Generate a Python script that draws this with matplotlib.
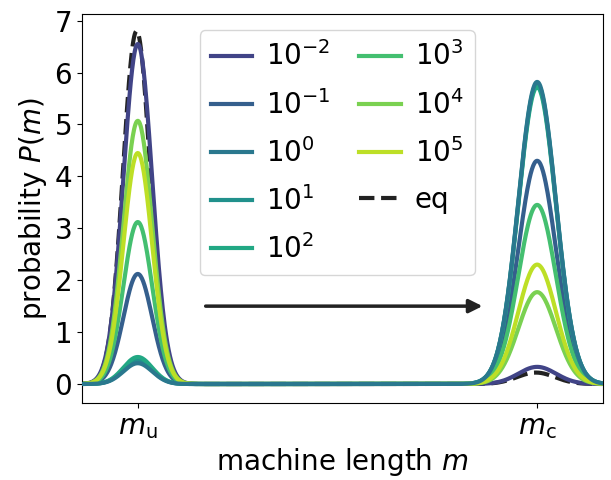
import numpy as np
import matplotlib
matplotlib.use('Agg')
import matplotlib.pyplot as plt

# peak heights (left peak at m_u, right peak at m_c)
labels = ['$10^{-2}$', '$10^{-1}$', '$10^{0}$', '$10^{1}$',
          '$10^{2}$', '$10^{3}$', '$10^{4}$', '$10^{5}$']
left_peak = [6.55, 2.12, 0.40, 0.46, 0.52, 3.12, 5.07, 4.45]
right_peak = [0.33, 4.30, 5.82, 5.78, 5.72, 3.45, 1.77, 2.30]
eq_left = 6.80
eq_right = 0.22

# peak positions / widths in machine-length units
m_u, m_c = 0.0, 1.0
width_u, width_c = 0.036, 0.047
eq_width_u = 0.034

m = np.linspace(-0.14, 1.165, 800)


def bump(h1, h2, w1=width_u, w2=width_c):
    return (h1 * np.exp(-(m - m_u)**2 / (2 * w1**2))
            + h2 * np.exp(-(m - m_c)**2 / (2 * w2**2)))


colors = plt.cm.viridis(np.linspace(0.2, 0.9, len(labels)))

fig, ax = plt.subplots(figsize=(6.11, 4.8), dpi=100)
fig.subplots_adjust(left=0.134, right=0.987, top=0.971, bottom=0.16)

eq_line, = ax.plot(m - 0.003, bump(eq_left, eq_right, w1=eq_width_u), '--',
                   color='#222222', lw=3, label='eq', zorder=1)
handles = []
for i, lab in enumerate(labels):
    z = 3 if i == 2 else 2
    ln, = ax.plot(m, bump(left_peak[i], right_peak[i]), color=colors[i],
                  lw=3, label=lab, zorder=z)
    handles.append(ln)
handles.append(eq_line)

ax.annotate('', xy=(0.87, 1.5), xytext=(0.163, 1.5),
            arrowprops=dict(arrowstyle='-|>', color='#222222', lw=2.5,
                            mutation_scale=20))

ax.set_xlim(-0.14, 1.165)
ax.set_ylim(-0.37, 7.13)
ax.set_xticks([m_u, m_c])
ax.set_xticklabels([r'$m_\mathrm{u}$', r'$m_\mathrm{c}$'])
ax.set_yticks(range(8))
ax.tick_params(labelsize=20)
ax.set_xlabel('machine length $m$', fontsize=20)
ax.set_ylabel('probability $P(m)$', fontsize=20)

ax.legend(handles=handles, ncol=2, fontsize=20, loc='upper left',
          bbox_to_anchor=(0.226, 0.958), borderaxespad=0,
          handlelength=1.5, columnspacing=1.03, handletextpad=0.5,
          labelspacing=0.66)

fig.savefig('out.png', dpi=100)
